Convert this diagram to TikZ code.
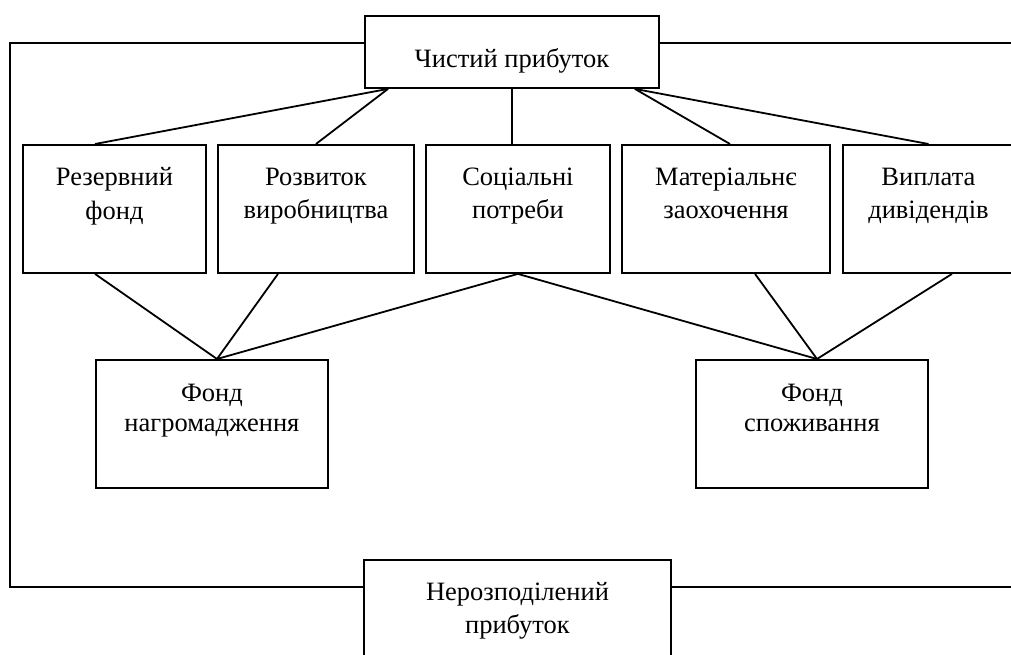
\documentclass[tikz,border=0pt]{standalone}
\usepackage{fontspec}
\setmainfont{Liberation Serif}
\begin{document}
\begin{tikzpicture}[x=1pt, y=-1pt,
  box/.style={draw, line width=1.9pt, inner sep=0pt, anchor=north west},
  boxtext/.style={anchor=north, align=center, inner sep=0pt,
              font=\fontsize{26.5}{33.5}\selectfont},
  link/.style={line width=1.8pt}
]
\useasboundingbox (0,0) rectangle (1011,655);
% net profit and its five uses
\node[box, minimum width=294, minimum height=72,
      label={[boxtext, yshift=-33pt]north:Чистий прибуток}] (net) at (364,15) {};
\node[box, minimum width=183, minimum height=128,
      label={[boxtext, yshift=-23.5pt]north:{Резервний\\фонд}}] (res) at (22,144) {};
\node[box, minimum width=196, minimum height=128,
      label={[boxtext, yshift=-23.5pt]north:{Розвиток\\виробництва}}] (dev) at (217,144) {};
\node[box, minimum width=184, minimum height=128,
      label={[boxtext, yshift=-23.5pt]north:{Соціальні\\потреби}}] (soc) at (425,144) {};
\node[box, minimum width=208, minimum height=128,
      label={[boxtext, yshift=-23.5pt]north:{Матеріальнє\\заохочення}}] (mat) at (621,144) {};
\node[box, minimum width=171, minimum height=128,
      label={[boxtext, yshift=-23.5pt]north:{Виплата\\дивідендів}}] (div) at (842,144) {};
% the two funds
\node[box, minimum width=232, minimum height=128,
      label={[boxtext, yshift=-25pt, font=\fontsize{26.5}{30}\selectfont]north:{Фонд\\нагромадження}}] (acc) at (95,359) {};
\node[box, minimum width=232, minimum height=128,
      label={[boxtext, yshift=-25pt, font=\fontsize{26.5}{30}\selectfont]north:{Фонд\\споживання}}] (con) at (695,359) {};
% retained earnings
\node[box, minimum width=307, minimum height=140,
      label={[boxtext, yshift=-23pt, font=\fontsize{26.5}{33}\selectfont]north:{Нерозподілений\\прибуток}}] (ret) at (363,559) {};

\coordinate (netL) at ([xshift=24pt]net.south west);
\coordinate (netR) at ([xshift=-25pt]net.south east);
\draw[link] (netL) -- ([xshift=73pt]res.north west);
\draw[link] (netL) -- (dev.north);
\draw[link] (net.south) -- (net.south |- soc.north);
\draw[link] (netR) -- ([xshift=109pt]mat.north west);
\draw[link] (netR) -- (div.north);

\coordinate (accT) at ([xshift=122pt]acc.north west);
\coordinate (conT) at ([xshift=122pt]con.north west);
\draw[link] ([xshift=73pt]res.south west) -- (accT);
\draw[link] ([xshift=61pt]dev.south west) -- (accT);
\draw[link] (soc.south) -- (accT);
\draw[link] (soc.south) -- (conT);
\draw[link] ([xshift=134pt]mat.south west) -- (conT);
\draw[link] ([xshift=110pt]div.south west) -- (conT);

% outer loop
\coordinate (lft) at (10,43);
\coordinate (lfb) at (10,587);
\coordinate (rgt) at (1030,43);
\coordinate (rgb) at (1030,587);
\draw[link] (net.north west |- lft) -- (lft) -- (lfb) -- (ret.north west |- lfb);
\draw[link] (net.north east |- rgt) -- (rgt) -- (rgb) -- (ret.north east |- rgb);
\end{tikzpicture}
\end{document}
